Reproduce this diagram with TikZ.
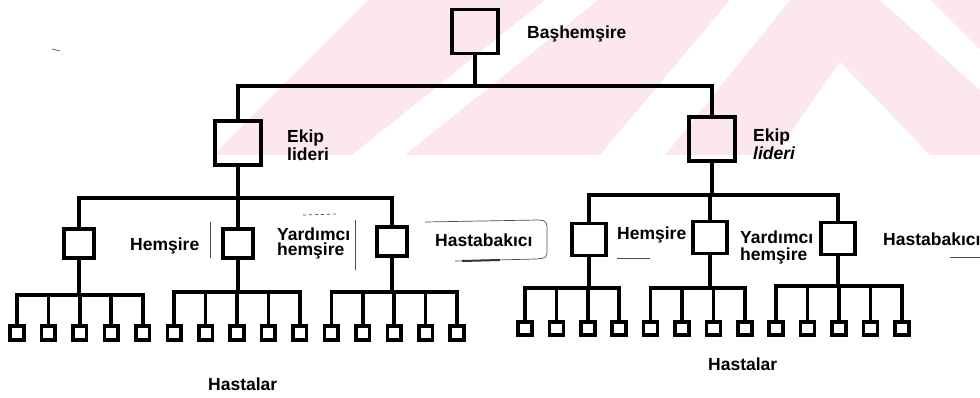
\documentclass[tikz,border=0pt]{standalone}
\usepackage{fontspec}
\setmainfont{Liberation Sans}
\definecolor{wmpink}{RGB}{252,232,236}
\begin{document}
\begin{tikzpicture}[x=1pt,y=-1pt,
  bigbox/.style={draw=black,line width=3.5pt,inner sep=0pt,minimum width=46pt,minimum height=44pt},
  midL/.style={draw=black,line width=3.5pt,inner sep=0pt,minimum width=30pt,minimum height=29pt},
  midR/.style={draw=black,line width=3.5pt,inner sep=0pt,minimum width=34pt,minimum height=32pt},
  patL/.style={draw=black,line width=3.6pt,inner sep=0pt,minimum width=13.5pt,minimum height=14.5pt},
  patR/.style={draw=black,line width=3.6pt,inner sep=0pt,minimum width=14pt,minimum height=13.5pt},
  conn/.style={draw=black,line width=3.6pt,line join=miter},
  lbl/.style={inner sep=0pt,anchor=base west,font=\fontsize{17.5}{18}\selectfont\bfseries},
  lbltwo/.style={inner sep=0pt,anchor=north west,align=left,font=\fontsize{17.5}{#1}\selectfont\bfseries},
  noise/.style={draw=black!70,line width=0.7pt}]
\useasboundingbox (0,0) rectangle (980,398);
% watermark
\begin{scope}
  \clip (0,0) rectangle (980,155);
  \fill[wmpink] (368,0) -- (980,0) -- (980,155) -- (213,155) -- cycle;
  \fill[white] (545,0) -- (598,0) -- (405,155) -- (352,155) -- cycle;
  \fill[white] (600,155) -- (665,155) -- (790,0) -- (730,0) -- cycle;
  \fill[white] (880,0) -- (930,0) -- (980,50) -- (980,90) -- cycle;
  \fill[white] (775,155) -- (840,62) -- (930,155) -- cycle;
\end{scope}
% nodes
\node[bigbox] (top) at (475,31.5) {};
\node[bigbox] (ekL) at (238,143) {};
\node[bigbox] (ekR) at (712,139) {};
\node[midL] (hL) at (79,243.5) {};
\node[midL] (yL) at (238,243.5) {};
\node[midL] (tL) at (392,241.5) {};
\node[midR] (hR) at (589,239.5) {};
\node[midR] (yR) at (710,237.5) {};
\node[midR] (tR) at (838,238.5) {};
\foreach \i in {0,...,14} \node[patL] (pL\i) at ({17+\i*31.43},333) {};
\foreach \i in {0,...,12} \node[patR] (pR\i) at ({525+\i*31.4},328.5) {};
% labels
\node[lbl] (lTop) at (527,39) {Başhemşire};
\node[lbltwo=18] (lEkL) at (287,129.4) {Ekip\\lideri};
\node[lbltwo=18] (lEkR) at (753,128.4) {Ekip\\\itshape lideri};
\node[lbl] (lHL) at (130,251) {Hemşire};
\node[lbltwo=15.5] (lYL) at (277,227.4) {Yardımcı\\hemşire};
\node[lbl] (lTL) at (435,247) {Hastabakıcı};
\node[lbl] (lHR) at (617,240) {Hemşire};
\node[lbltwo=17] (lYR) at (740,230.4) {Yardımcı\\hemşire};
\node[lbl] (lTR) at (883,245) {Hastabakıcı};
\node[lbl] (lPL) at (208,390) {Hastalar};
\node[lbl] (lPR) at (708,370) {Hastalar};
% bus coordinates
\coordinate (b0) at (475,86);
\coordinate (eL) at (238,198);
\coordinate (eR) at (712,195);
\coordinate (bL1) at (79,295);
\coordinate (bL2) at (238,292);
\coordinate (bL3) at (392,292);
\coordinate (bR1) at (589,288);
\coordinate (bR2) at (710,288);
\coordinate (bR3) at (838,286);
% connectors
\draw[conn] (top.south) -- (b0);
\draw[conn] (ekL.north) |- (b0);
\draw[conn] (ekR.north) |- (b0);
\draw[conn] (ekL.south) -- (eL);
\draw[conn] (hL.north) |- (eL);
\draw[conn] (yL.north) -- (eL);
\draw[conn] (tL.north) |- (eL);
\draw[conn] (ekR.south) -- (eR);
\draw[conn] (hR.north) |- (eR);
\draw[conn] (yR.north) |- (eR);
\draw[conn] (tR.north) |- (eR);
\draw[conn] (hL.south) -- (bL1);
\draw[conn] (yL.south) -- (bL2);
\draw[conn] (tL.south) -- (bL3);
\draw[conn] (hR.south) -- (bR1);
\draw[conn] (yR.south) -- (bR2);
\draw[conn] (tR.south) -- (bR3);
\foreach \i in {0,...,4} \draw[conn] (pL\i.north) |- (bL1);
\foreach \i in {5,...,9} \draw[conn] (pL\i.north) |- (bL2);
\foreach \i in {10,...,14} \draw[conn] (pL\i.north) |- (bL3);
\foreach \i in {0,...,3} \draw[conn] (pR\i.north) |- (bR1);
\foreach \i in {4,...,7} \draw[conn] (pR\i.north) |- (bR2);
\foreach \i in {8,...,12} \draw[conn] (pR\i.north) |- (bR3);
% faint scan marks
\draw[noise] (210,222) -- (210,258);
\draw[noise] (355,220) -- (355,270);
\draw[noise,dashed] (303,215) -- (337,214);
\draw[noise] (425,222) -- (538,220) .. controls (547,221) .. (547,232) -- (547,248) .. controls (547,258) .. (536,259) -- (455,261);
\draw[line width=2pt,black!80] (462,261) -- (500,260);
\draw[noise] (617,258) -- (650,258);
\draw[noise] (950,257) -- (980,257);
\draw[noise] (52,49) -- (60,51);
\end{tikzpicture}
\end{document}
